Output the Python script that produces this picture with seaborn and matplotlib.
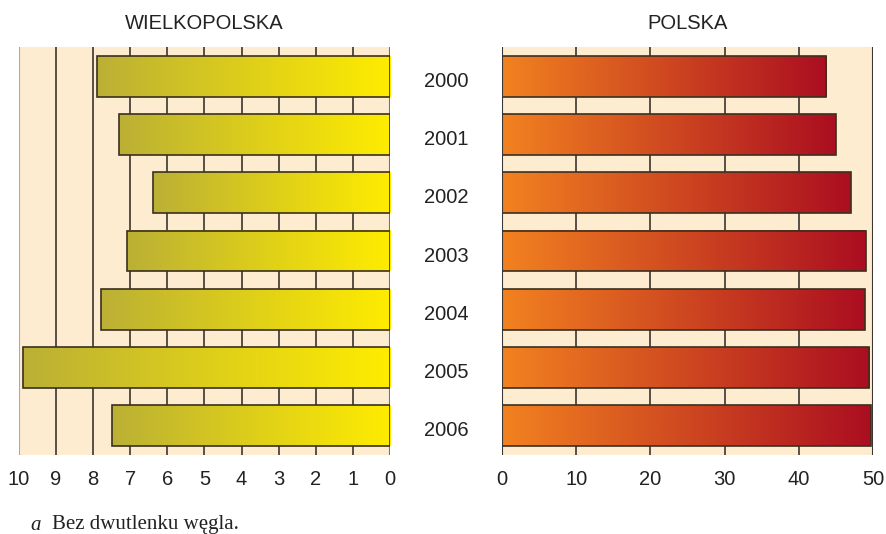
import numpy as np
import pandas as pd
import seaborn as sns
import matplotlib
matplotlib.use('Agg')
import matplotlib.pyplot as plt
from matplotlib.colors import LinearSegmentedColormap
from matplotlib.transforms import ScaledTranslation

# data
years = ['2000', '2001', '2002', '2003', '2004', '2005', '2006']
wielkopolska = [7.9, 7.3, 6.4, 7.1, 7.8, 9.9, 7.5]
polska = [43.7, 45.0, 47.0, 49.0, 48.9, 49.5, 49.7]
left_ticks = [10, 9, 8, 7, 6, 5, 4, 3, 2, 1, 0]
right_ticks = [0, 10, 20, 30, 40, 50]

df = pd.DataFrame({'rok': years, 'wlkp': wielkopolska, 'pl': polska})

sns.set_theme(style='white')
plt.rcParams['font.family'] = ['Liberation Sans', 'DejaVu Sans']

bg = '#feecd0'
grid_col = '#3a3530'
edge_col = '#3a3020'

cmap_left = LinearSegmentedColormap.from_list('wl', ['#ffec00', '#bbb035'])
cmap_right = LinearSegmentedColormap.from_list('pl', ['#f28220', '#ab0e20'])

fig = plt.figure(figsize=(8.87, 5.34), dpi=100)
W, H = 887, 534
ax1 = fig.add_axes([19 / W, (534 - 455) / H, 371 / W, 408 / H])
ax2 = fig.add_axes([502 / W, (534 - 455) / H, 371 / W, 408 / H])


def grad_bars(ax, col, cmap):
    sns.barplot(data=df, x=col, y='rok', orient='h', ax=ax, width=0.70,
                color='white', edgecolor=edge_col, linewidth=1.2)
    grad = np.linspace(0, 1, 256).reshape(1, -1)
    for p in list(ax.patches):
        p.set_facecolor('none')
        p.set_zorder(4)
        x0, y0 = p.get_x(), p.get_y()
        w, h = p.get_width(), p.get_height()
        ax.imshow(grad, cmap=cmap, aspect='auto', zorder=3,
                  extent=[x0, x0 + w, y0 + h, y0], interpolation='bilinear')


grad_bars(ax1, 'wlkp', cmap_left)
grad_bars(ax2, 'pl', cmap_right)

for ax, ticks in ((ax1, left_ticks), (ax2, right_ticks)):
    ax.set_facecolor(bg)
    ax.set_ylim(6.5, -0.5)
    ax.set_xticks(ticks)
    ax.set_xticklabels([str(t) for t in ticks], fontsize=14.5, color='#222222')
    ax.tick_params(axis='x', length=0, pad=11)
    ax.set_xlabel('')
    ax.set_ylabel('')
    for t in ticks:
        ax.axvline(t, color=grid_col, lw=1.2, zorder=1)
    for s in ax.spines.values():
        s.set_visible(False)

ax1.set_xlim(10, 0)
ax2.set_xlim(0, 50)
ax1.set_yticks([])
ax2.set_yticks(range(len(years)))
ax2.set_yticklabels(years, fontsize=14.5, color='#222222', ha='center',
                    va='center_baseline')
ax2.tick_params(axis='y', length=0, pad=40)
shift = ScaledTranslation(0, -3 / 100, fig.dpi_scale_trans)
for lab in ax2.get_yticklabels():
    lab.set_transform(lab.get_transform() + shift)

ax1.axvline(10, color='#a8a8a8', lw=1.5, zorder=1)
ax1.axvline(0, color='#7a7068', lw=1.5, zorder=1)
ax2.axvline(0, color='#3a3530', lw=1.5, zorder=5)
ax2.axvline(50, color='#3a3530', lw=1.5, zorder=1)

ax1.set_title('WIELKOPOLSKA', fontsize=14.5, color='#222222', pad=13)
ax2.set_title('POLSKA', fontsize=14.5, color='#222222', pad=13)

fig.text(30 / W, 1 - 525 / H, 'a', fontsize=15, style='italic',
         family='Liberation Serif', color='#222222', va='center')
fig.text(52 / W, 1 - 525 / H, 'Bez dwutlenku węgla.', fontsize=15,
         family='Liberation Serif', color='#222222', va='center')

fig.savefig('out.png', dpi=100, facecolor='white')
